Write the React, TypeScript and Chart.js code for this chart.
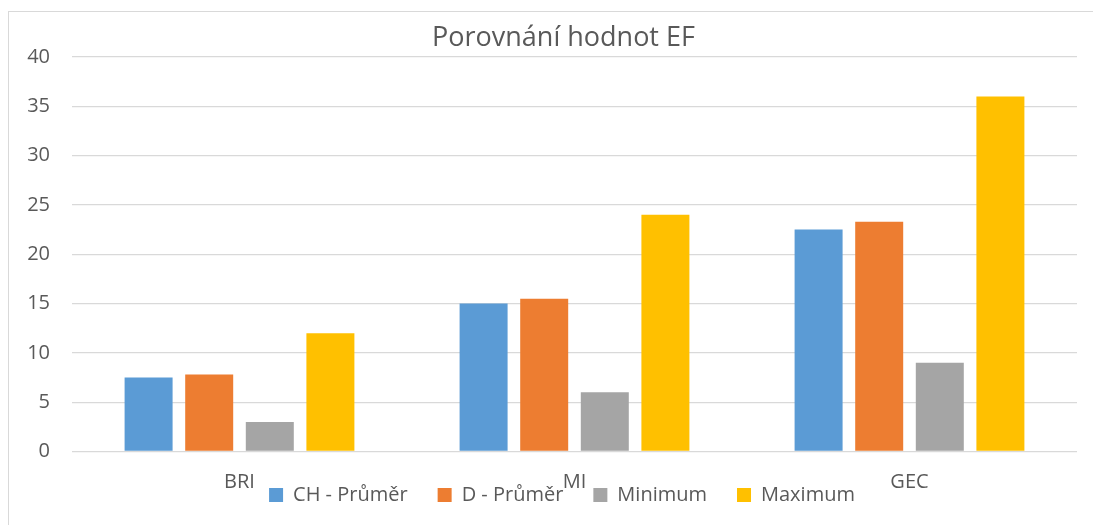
import React, { useEffect, useRef } from "react";
import { Chart, registerables } from "chart.js";

Chart.register(...registerables);

const title = "Porovnání hodnot EF";
const categories = ["BRI", "MI", "GEC"];
const seriesNames = ["CH - Průměr", "D - Průměr", "Minimum", "Maximum"];
const chPrumer = [7.5, 15, 22.5];
const dPrumer = [7.8, 15.5, 23.3];
const minimum = [3, 6, 9];
const maximum = [12, 24, 36];
const seriesColors = ["#5B9BD5", "#ED7D31", "#A5A5A5", "#FFC000"];
const yMin = 0;
const yMax = 40;
const yStep = 5;

const FONT = "'Open Sans', 'Noto Sans', sans-serif";
const TEXT = "#595959";
const LEGEND_TOP = 455;
const CENTER_X = 562;

const boxShift = {
  id: "boxShift",
  afterLayout(chart: any) {
    const l = chart.legend;
    if (l) {
      const dy = l.top - LEGEND_TOP;
      l.top -= dy;
      l.bottom -= dy;
      const dx = CENTER_X - (l.left + l.right) / 2;
      l.left += dx;
      l.right += dx;
    }
    const t = chart.titleBlock;
    if (t) {
      const dx = CENTER_X + 1.5 - (t.left + t.right) / 2;
      t.left += dx;
      t.right += dx;
    }
  },
};

export default function App() {
  const ref = useRef<HTMLCanvasElement | null>(null);
  useEffect(() => {
    if (!ref.current) return;
    const values = [chPrumer, dPrumer, minimum, maximum];
    const chart = new Chart(ref.current, {
      type: "bar",
      data: {
        labels: categories,
        datasets: seriesNames.map((name, i) => ({
          label: name,
          data: values[i],
          backgroundColor: seriesColors[i],
          borderWidth: 0,
          categoryPercentage: 0.7236,
          barPercentage: 0.792,
        })),
      },
      options: {
        animation: false,
        responsive: false,
        maintainAspectRatio: false,
        layout: { padding: { left: 0, right: 16, top: 0, bottom: -29.5 } },
        plugins: {
          title: {
            display: true,
            text: title,
            color: TEXT,
            font: { family: FONT, size: 27, weight: "normal" },
            padding: { top: 22.5, bottom: 2.1 },
          },
          legend: {
            position: "bottom",
            labels: {
              color: TEXT,
              font: { family: FONT, size: 20 },
              boxWidth: 14,
              boxHeight: 14,
              padding: 30,
            },
          },
          tooltip: { enabled: false },
        },
        scales: {
          x: {
            grid: { display: false },
            border: { display: false },
            ticks: {
              color: TEXT,
              font: { family: FONT, size: 20 },
              padding: 11,
            },
            afterFit: (s: any) => {
              s.height = 43;
            },
          },
          y: {
            min: yMin,
            max: yMax,
            grid: { color: "#D9D9D9", lineWidth: 1.3, drawTicks: false },
            border: { display: false },
            ticks: {
              stepSize: yStep,
              color: TEXT,
              font: { family: FONT, size: 20 },
              padding: 22,
            },
            afterFit: (s: any) => {
              s.width = 72;
            },
          },
        },
      },
      plugins: [boxShift],
    });
    return () => chart.destroy();
  }, []);

  return (
    <div>
      <div
        style={{
          position: "fixed",
          left: 8,
          top: 11,
          width: 1200,
          height: 700,
          border: "1px solid #D9D9D9",
          boxSizing: "border-box",
        }}
      />
      <canvas
        ref={ref}
        width={1093}
        height={525}
        style={{ position: "fixed", left: 0, top: 0, width: 1093, height: 525 }}
      />
    </div>
  );
}
